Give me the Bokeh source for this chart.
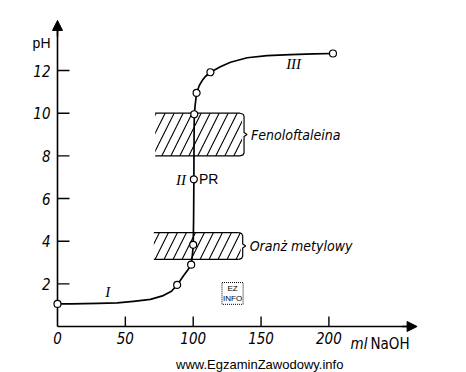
from bokeh.plotting import figure
from bokeh.models import Range1d, Arrow, NormalHead, Label, ColumnDataSource
from bokeh.embed import file_html
from bokeh.resources import INLINE

# ---- data ----
curve_ml = [0, 10, 20, 30, 44, 56, 68.5, 78, 84, 88.2, 93, 96, 98.5, 99.5, 100.0, 100.3,
            100.5, 100.6, 100.8, 101.5, 102.5, 104.5, 106.6, 109, 112.7, 120, 127.5,
            139.8, 154.5, 171.7, 188.9, 203]
curve_ph = [1.06, 1.06, 1.07, 1.08, 1.11, 1.18, 1.27, 1.45, 1.65, 1.95, 2.39, 2.65, 2.9,
            3.4, 3.83, 5.0, 6.9, 8.5, 9.95, 10.4, 10.95, 11.3, 11.53, 11.72, 11.92, 12.18,
            12.39, 12.6, 12.7, 12.75, 12.78, 12.8]
point_ml = [0, 88.2, 98.5, 100.0, 100.5, 100.8, 102.5, 112.7, 203]
point_ph = [1.06, 1.95, 2.9, 3.83, 6.9, 9.95, 10.95, 11.92, 12.8]

ind_names = ["Fenoloftaleina", "Oranż metylowy"]
ind_left = [72, 71]
ind_right = [136, 135]
ind_low = [8.0, 3.15]
ind_high = [10.0, 4.4]

x_ticks = [0, 50, 100, 150, 200]
y_ticks = [2, 4, 6, 8, 10, 12]
x_tick_labels = ["0", "50", "100", "150", "200"]
y_tick_labels = ["2", "4", "6", "8", "10", "12"]

region_labels = ["I", "II", "III"]
region_ml = [37, 91, 174]
region_ph = [1.6, 6.85, 12.33]

X_AXIS_END = 262
Y_AXIS_END = 14.2

NARROW = "'Liberation Sans Narrow', 'DejaVu Sans Condensed', sans-serif"
SERIF = "'Liberation Serif', serif"
SANS = "'Liberation Sans', 'DejaVu Sans', sans-serif"

PX_X = 1 / 1.357   # ml per pixel
PX_Y = 1 / 21.33   # pH per pixel

W, H = 466, 372
X0, Y0 = 57, 326   # pixel position of the origin in the page
p = figure(width=W, height=H, output_backend="svg", toolbar_location=None,
           x_range=Range1d(-X0 * PX_X, (W - X0) * PX_X),
           y_range=Range1d(-(H - Y0) * PX_Y, Y0 * PX_Y),
           min_border=0)
p.outline_line_color = None
p.grid.visible = False
p.axis.visible = False
p.background_fill_color = "white"
p.border_fill_color = "white"

# ---- axes drawn from tick arrays ----
p.segment(x0=[0, 0], y0=[0, 0], x1=[0, X_AXIS_END], y1=[Y_AXIS_END, 0],
          line_color="black", line_width=1.6)
p.add_layout(Arrow(end=NormalHead(size=10, fill_color="black", line_color="black", line_width=1),
                   x_start=0, y_start=Y_AXIS_END - 0.6, x_end=0, y_end=Y_AXIS_END + 0.15,
                   line_width=1.5))
p.add_layout(Arrow(end=NormalHead(size=10, fill_color="black", line_color="black", line_width=1),
                   x_start=X_AXIS_END - 8, y_start=0, x_end=X_AXIS_END + 3, y_end=0,
                   line_width=1.5))
p.segment(x0=[0] * len(y_ticks), y0=y_ticks, x1=[12 * PX_X] * len(y_ticks), y1=y_ticks,
          line_color="black", line_width=1.4)
p.segment(x0=x_ticks[1:], y0=[0] * (len(x_ticks) - 1), x1=x_ticks[1:],
          y1=[10 * PX_Y] * (len(x_ticks) - 1), line_color="black", line_width=1.4)
p.text(x=[-7 * PX_X] * len(y_ticks), y=y_ticks, text=y_tick_labels,
       text_font={"value": NARROW}, text_font_style="italic", text_font_size="15px",
       text_color="black", text_align="right", text_baseline="middle")
p.text(x=x_ticks, y=[-5 * PX_Y] * len(x_ticks), text=x_tick_labels,
       text_font={"value": NARROW}, text_font_style="italic", text_font_size="15px",
       text_color="black", text_align="center", text_baseline="top")

# ---- indicator ranges (hatched) ----
src = ColumnDataSource(dict(left=ind_left, right=ind_right, bottom=ind_low, top=ind_high))
p.quad(left="left", right="right", bottom="bottom", top="top", source=src,
       fill_alpha=0, line_color=None, hatch_pattern="/", hatch_color="black",
       hatch_weight=1.1, hatch_scale=18)
p.segment(x0=ind_left, y0=ind_high, x1=[r - 2 * PX_X for r in ind_right], y1=ind_high,
          line_color="black", line_width=1.3)
p.segment(x0=ind_left, y0=ind_low, x1=[r - 2 * PX_X for r in ind_right], y1=ind_low,
          line_color="black", line_width=1.3)

brace_xs, brace_ys = [], []
for l, r, lo, hi in zip(ind_left, ind_right, ind_low, ind_high):
    mid = (lo + hi) / 2
    xs = [r - 2 * PX_X, r + 1 * PX_X, r + 2 * PX_X, r + 2 * PX_X, r + 5 * PX_X,
          r + 2 * PX_X, r + 2 * PX_X, r + 1 * PX_X, r - 2 * PX_X]
    ys = [hi, hi - 1 * PX_Y, hi - 3 * PX_Y, mid + 2 * PX_Y, mid,
          mid - 2 * PX_Y, lo + 3 * PX_Y, lo + 1 * PX_Y, lo]
    brace_xs.append(xs)
    brace_ys.append(ys)
p.multi_line(xs=brace_xs, ys=brace_ys, line_color="black", line_width=1.2)

for name, r, lo, hi in zip(ind_names, ind_right, ind_low, ind_high):
    p.add_layout(Label(x=r + 9 * PX_X, y=(lo + hi) / 2, text=name, text_font=NARROW,
                       text_font_style="italic", text_font_size="14px", text_color="black",
                       text_baseline="middle", text_align="left"))

# ---- titration curve ----
p.line(curve_ml, curve_ph, line_color="black", line_width=1.7, line_join="round")
p.scatter(point_ml, point_ph, size=7, marker="circle", fill_color="white",
          line_color="black", line_width=1.2)

for t, xm, yp in zip(region_labels, region_ml, region_ph):
    p.add_layout(Label(x=xm, y=yp, text=t, text_font=SERIF, text_font_style="italic",
                       text_font_size="15px", text_color="black",
                       text_baseline="middle", text_align="center"))
p.add_layout(Label(x=point_ml[4] + 5 * PX_X, y=point_ph[4], text="PR", text_font=SANS,
                   text_font_size="14px", text_color="black", text_baseline="middle",
                   text_align="left"))

# ---- axis titles ----
p.add_layout(Label(x=-7 * PX_X, y=13.27, text="pH", text_font=SANS, text_font_size="14px",
                   text_color="black", text_baseline="middle", text_align="right"))
p.add_layout(Label(x=228.4, y=-0.8, text="ml", text_font=NARROW, text_font_style="italic",
                   text_font_size="15px", text_color="black", text_baseline="middle",
                   text_align="right"))
p.add_layout(Label(x=230.6, y=-0.8, text="NaOH", text_font=NARROW,
                   text_font_size="15px", text_color="black", text_baseline="middle",
                   text_align="left"))

# ---- watermark ----
p.add_layout(Label(x=129, y=1.55, text="EZ\nINFO", text_font=SANS, text_font_size="8px",
                   text_color="black", text_baseline="middle", text_align="center",
                   border_line_color="black", border_line_dash="1 1", border_line_width=1,
                   padding=1))
p.add_layout(Label(x=149, y=-1.78, text="www.EgzaminZawodowy.info", text_font=SANS,
                   text_font_size="13px", text_color="black", text_baseline="middle",
                   text_align="center"))

open("out.html", "w").write(file_html(p, INLINE))
